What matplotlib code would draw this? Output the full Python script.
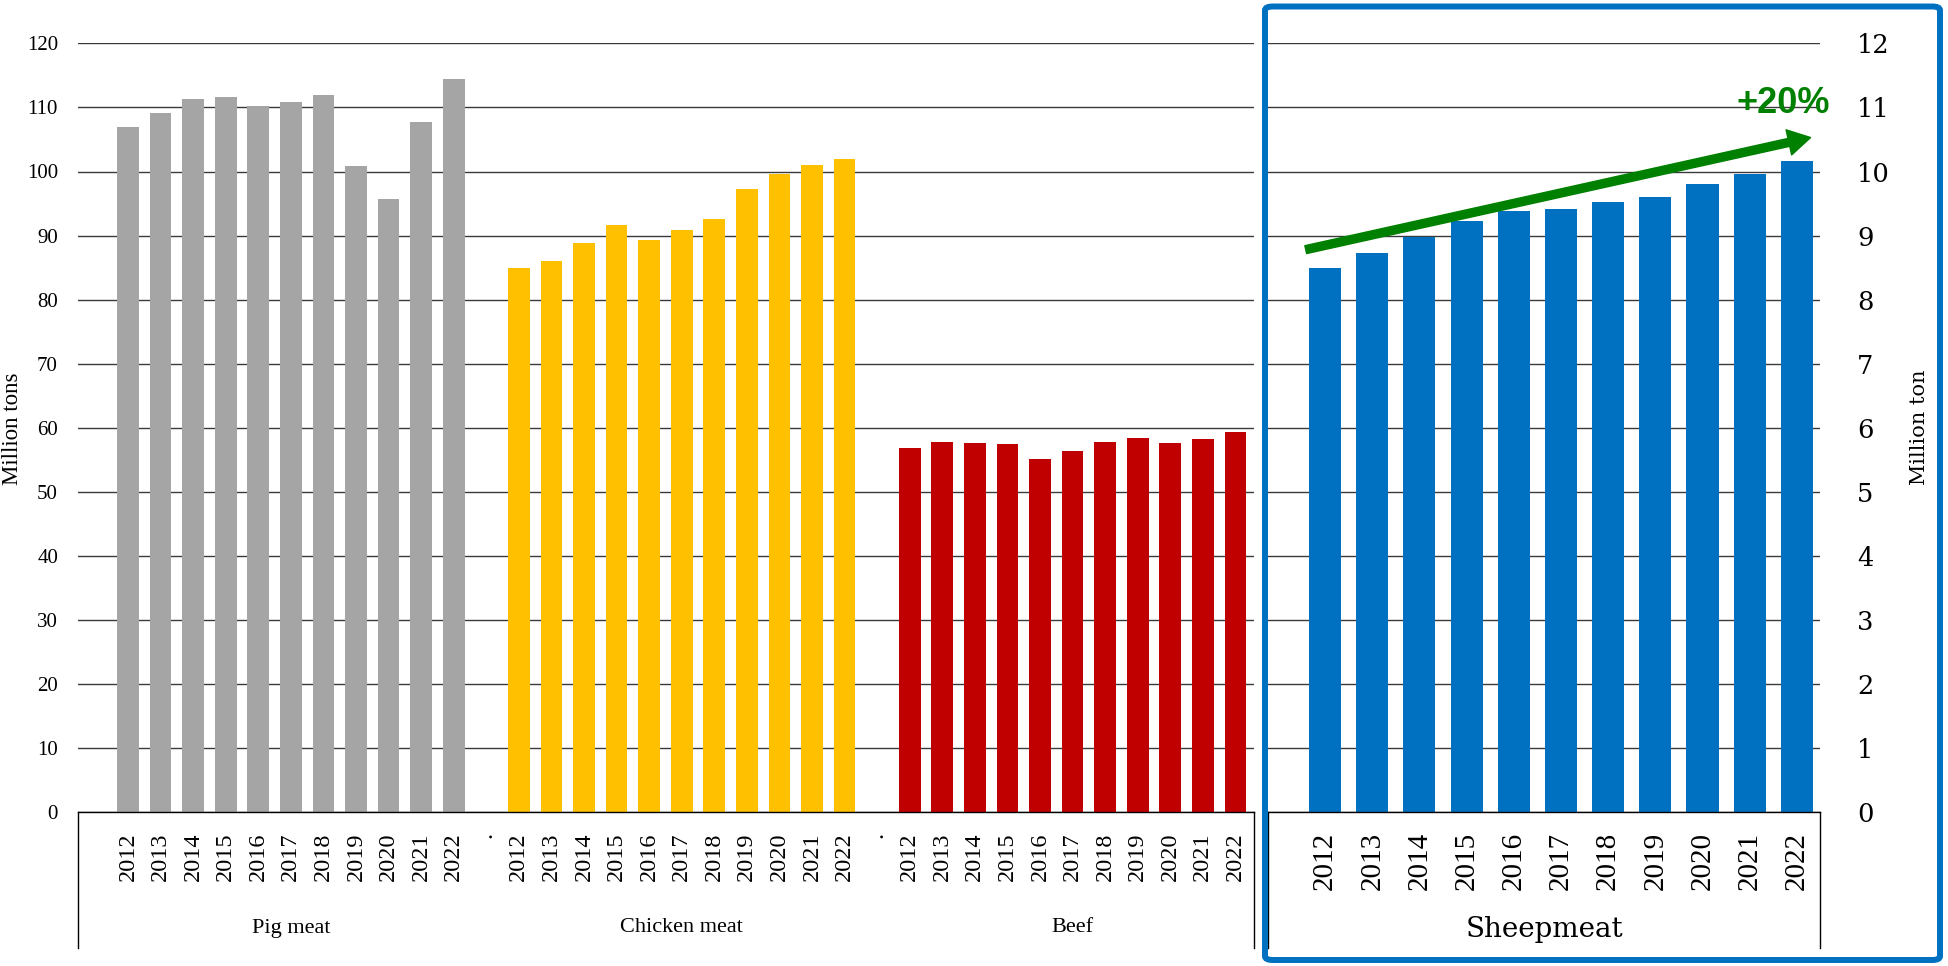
import matplotlib
matplotlib.use("Agg")
import matplotlib.pyplot as plt
from matplotlib.patches import FancyBboxPatch, FancyArrowPatch
from matplotlib.lines import Line2D
import numpy as np

# ---------------- data ----------------
years = ['2012', '2013', '2014', '2015', '2016', '2017', '2018', '2019', '2020', '2021', '2022']
groups = ['Pig meat', 'Chicken meat', 'Beef']
pig = [106.9, 109.1, 111.35, 111.7, 110.2, 110.9, 111.9, 100.9, 95.7, 107.8, 114.5]
chicken = [84.9, 86.0, 88.8, 91.7, 89.3, 90.85, 92.6, 97.25, 99.65, 101.05, 101.9]
beef = [56.9, 57.7, 57.55, 57.4, 55.15, 56.35, 57.7, 58.4, 57.55, 58.3, 59.3]
sheep_label = 'Sheepmeat'
sheep = [8.49, 8.73, 8.98, 9.23, 9.39, 9.41, 9.53, 9.60, 9.81, 9.96, 10.17]
left_ticks = list(range(0, 121, 10))
right_ticks = list(range(0, 13, 1))
growth_label = '+20%'

colors = ['#A5A5A5', '#FFC000', '#C00000']
sheep_color = '#0070C0'
green = '#008000'
grid_c = '#3a3a3a'

W, H = 1949, 966
fig = plt.figure(figsize=(W / 100, H / 100), dpi=100)

def fx(px):
    return px / W

def fy(py):
    return 1 - py / H

y0, ytop = 812, 43.4
ax1 = fig.add_axes([fx(78), fy(y0), fx(1254) - fx(78), fy(ytop) - fy(y0)])
ax2 = fig.add_axes([fx(1268), fy(y0), fx(1820) - fx(1268), fy(ytop) - fy(y0)])

serif = 'Liberation Serif'

# ---------------- left chart ----------------
series = [pig, chicken, beef]
pos_all, lab_all = [], []
for gi, (vals, col) in enumerate(zip(series, colors)):
    x = np.arange(len(vals)) + gi * 12
    ax1.bar(x, vals, width=0.67, color=col, zorder=3)
    pos_all += list(x)
    lab_all += years
    if gi < len(series) - 1:
        pos_all.append(gi * 12 + 11)
        lab_all.append('.')
    ax1.text(gi * 12 + 5, -(928 - 812) / (812 - 43.4), groups[gi],
             transform=ax1.get_xaxis_transform(), ha='center', va='center',
             fontsize=16, family=serif)

ax1.set_xlim(-1.535, 34.57)
ax1.set_ylim(0, 120)
ax1.set_yticks(left_ticks)
ax1.set_yticklabels([str(t) for t in left_ticks], family=serif, fontsize=15)
ax1.tick_params(axis='y', length=0, pad=14.4)
ax1.set_xticks(pos_all)
ax1.set_xticklabels(lab_all, rotation=90, family=serif, fontsize=17.5)
ax1.tick_params(axis='x', length=0, pad=14.5)
ax1.grid(axis='y', color=grid_c, lw=1.0, zorder=0)
ax1.set_axisbelow(True)
for s in ['top', 'right', 'left']:
    ax1.spines[s].set_visible(False)
ax1.spines['bottom'].set_color('black')
ax1.spines['bottom'].set_linewidth(1.0)
ax1.spines['bottom'].set_zorder(4)

yb = -(948 - 812) / (812 - 43.4)
for xa in (0, 1):
    ax1.add_line(Line2D([xa, xa], [0, yb], transform=ax1.transAxes, color='black',
                        lw=1.0, clip_on=False))
    ax2.add_line(Line2D([xa, xa], [0, yb], transform=ax2.transAxes, color='black',
                        lw=1.0, clip_on=False))

# ---------------- sheep chart ----------------
xs = np.arange(len(sheep))
ax2.bar(xs, sheep, width=0.68, color=sheep_color, zorder=3)
ax2.set_xlim(-1.21, 10.49)
ax2.set_ylim(0, 12)
ax2.yaxis.tick_right()
ax2.set_yticks(right_ticks)
ax2.set_yticklabels([str(t) for t in right_ticks], family='DejaVu Serif', fontsize=18.5)
ax2.tick_params(axis='y', length=0, pad=26.6)
for lab in ax2.get_yticklabels():
    lab.set_horizontalalignment('left')
ax2.set_xticks(xs)
ax2.set_xticklabels(years, rotation=90, family=serif, fontsize=21)
ax2.tick_params(axis='x', length=0, pad=14.5)
ax2.grid(axis='y', color=grid_c, lw=1.0, zorder=0)
ax2.set_axisbelow(True)
for s in ['top', 'right', 'left']:
    ax2.spines[s].set_visible(False)
ax2.spines['bottom'].set_color('black')
ax2.spines['bottom'].set_linewidth(1.0)
ax2.spines['bottom'].set_zorder(4)
ax2.text(0.5, -(937 - 812) / (812 - 43.4), sheep_label, transform=ax2.transAxes,
         ha='center', va='baseline', fontsize=20, family='DejaVu Serif')

# growth arrow and label
arr = FancyArrowPatch((-0.41, 8.78), (10.29, 10.53),
                      arrowstyle='simple,head_length=16,head_width=18.5,tail_width=5.8',
                      mutation_scale=1, color=green, shrinkA=0, shrinkB=0,
                      zorder=6, clip_on=False)
ax2.add_patch(arr)
ax2.text(9.72, 10.91, growth_label, ha='center', va='baseline', color=green,
         fontsize=26, fontweight='bold', family='Liberation Sans', zorder=7)

# axis titles
fig.text(fx(13), fy(429), 'Million tons', rotation=90, ha='center', va='center',
         fontsize=16.5, family=serif)
fig.text(fx(1920), fy(427), 'Million ton', rotation=90, ha='center', va='center',
         fontsize=15, family='DejaVu Serif')

# highlight box
box = FancyBboxPatch((fx(1265), fy(960)), fx(1940) - fx(1265), fy(6.5) - fy(960),
                     boxstyle='round,pad=0,rounding_size=0.004',
                     transform=fig.transFigure, fill=False, edgecolor=sheep_color,
                     linewidth=4.3, zorder=10)
fig.patches.append(box)

fig.savefig('out.png', dpi=100)
